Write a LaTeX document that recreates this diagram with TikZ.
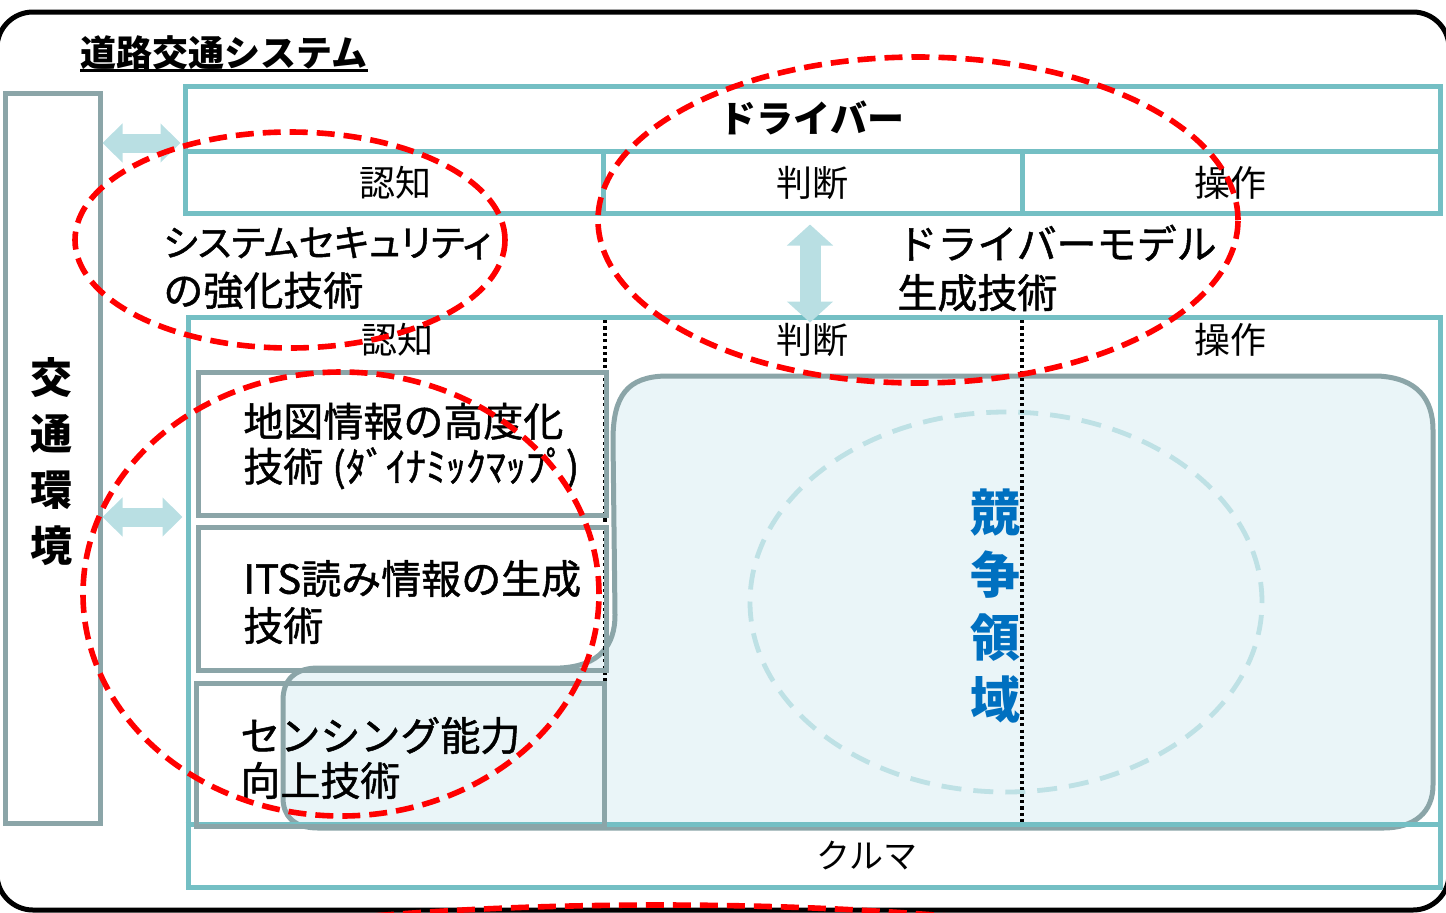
\documentclass[tikz,border=0pt]{standalone}
\usepackage{fontspec}
\setmainfont{Noto Sans CJK JP}
\newfontfamily\jpmed{Noto Sans CJK JP}[FakeBold=1.2]
\newfontfamily\jpprop{Noto Sans CJK JP}[FakeBold=1.2,RawFeature=+palt]
\usetikzlibrary{fit,arrows.meta}
\definecolor{boxteal}{RGB}{116,191,196}
\definecolor{boxgrey}{RGB}{139,165,168}
\definecolor{regfill}{RGB}{234,245,248}
\definecolor{arrowfill}{RGB}{185,223,227}
\definecolor{ellblue}{RGB}{190,225,229}
\definecolor{redline}{RGB}{255,0,0}
\definecolor{textblue}{RGB}{0,112,192}
\tikzset{
  tealbox/.style={draw=boxteal, line width=2.5pt, inner sep=0pt},
  greybox/.style={draw=boxgrey, line width=2.5pt, inner sep=0pt},
  tealline/.style={draw=boxteal, line width=2.5pt},
  dotline/.style={draw=black, line width=1.7pt, dash pattern=on 1.6pt off 1.6pt},
  redell/.style={draw=redline, line width=2.8pt, dash pattern=on 9pt off 4.5pt},
  fatarrow/.style={draw=arrowfill, line width=9.5pt,
     {Triangle[length=10pt 0 0, width=19pt 0 0]}-{Triangle[length=10pt 0 0, width=19pt 0 0]}},
  fatarrowv/.style={draw=arrowfill, line width=10.5pt,
     {Triangle[length=10.5pt 0 0, width=22.5pt 0 0]}-{Triangle[length=10.5pt 0 0, width=22.5pt 0 0]}},
  hdr/.style={inner sep=0pt, font=\fontsize{18pt}{20pt}\selectfont},
  lbl/.style={inner sep=0pt, anchor=west, align=left, font=\jpmed\fontsize{20pt}{24.5pt}\selectfont},
}
\begin{document}
\begin{tikzpicture}[x=0.5pt, y=-0.5pt]
\useasboundingbox (0,0) rectangle (1446,912);
% outer frame
\node[fit={(-3,12) (1449,910)}, draw=black, line width=2.5pt, inner sep=0pt, rounded corners=18pt] (outer) {};
% title
\node[anchor=base west, inner sep=0pt, font=\bfseries\fontsize{18pt}{20pt}\selectfont] (title) at (80,66) {道路交通システム};
\draw[line width=1.5pt] ([yshift=-2pt]title.base west) -- ([yshift=-2pt]title.base east);
% environment box
\node[fit={(5,93) (100,823)}, greybox] (env) {};
\node[inner sep=0pt, align=center, font=\bfseries\fontsize{21pt}{28pt}\selectfont] (envtxt) at (52,462) {交\\通\\環\\境};
% competitive region
\path[fill=regfill, draw=boxgrey, line width=2.5pt] (613,440) .. controls (613,395) and (628,377) .. (665,376) -- (1378,376) .. controls (1418,378) and (1433,400) .. (1433,430) -- (1433,785) .. controls (1433,812) and (1415,828) .. (1383,828) -- (318,828) .. controls (293,828) and (283,815) .. (283,798) -- (283,700) .. controls (283,680) and (295,668) .. (318,668) -- (560,668) .. controls (600,666) and (615,645) .. (615,615) -- cycle;
\draw[draw=ellblue, line width=2.4pt, dash pattern=on 10pt off 6pt] (1006,602) ellipse [x radius=128pt, y radius=95pt];
% car box
\node[fit={(188,317) (1440,887)}, tealbox] (car) {};
\draw[tealline] (car.west |- 0,824) -- (car.east |- 0,824);
\draw[dotline] (605,320) -- (605,822);
\draw[dotline] (1022,320) -- (1022,822);
\node[hdr] (cnin) at (397,340) {認知};
\node[hdr] (chan) at (812,340) {判断};
\node[hdr] (csou) at (1230,340) {操作};
\node[inner sep=0pt, font=\fontsize{17pt}{20pt}\selectfont] (kuruma) at (867,856) {クルマ};
% technique boxes
\node[fit={(198,372) (606,515)}, greybox] (b1) {};
\node[fit={(198,527) (606,670)}, greybox] (b2) {};
\node[fit={(196,683) (604,826)}, greybox] (b3) {};
\node[lbl, font=\jpmed\fontsize{20pt}{22.5pt}\selectfont] (t1) at (243,446) {地図情報の高度化\\技術 (ﾀﾞｲﾅﾐｯｸﾏｯﾌﾟ)};
\node[lbl, font=\jpmed\fontsize{20pt}{23.5pt}\selectfont] (t2) at (243,602) {ITS読み情報の生成\\技術};
\node[lbl, font=\jpmed\fontsize{20pt}{22.5pt}\selectfont] (t3) at (240,758) {センシング能力\\向上技術};
% competitive text
\node[inner sep=0pt, align=center, text=textblue, font=\bfseries\fontsize{25pt}{31.25pt}\selectfont] (kyoso) at (995,606) {競\\争\\領\\域};
% driver box
\node[fit={(185,86) (1440,213)}, tealbox] (drv) {};
\draw[tealline] (drv.west |- 0,151) -- (drv.east |- 0,151);
\draw[tealline] (603,151) -- (drv.south -| 603,0);
\draw[tealline] (1022,151) -- (drv.south -| 1022,0);
\node[inner sep=0pt, font=\bfseries\fontsize{18.5pt}{20pt}\selectfont] (driver) at (812,118) {ドライバー};
\node[hdr] (dnin) at (395,183) {認知};
\node[hdr] (dhan) at (812,183) {判断};
\node[hdr] (dsou) at (1230,183) {操作};
% technique labels
\node[lbl] (sec) at (163,268) {{\jpprop\fontsize{18.6pt}{24.5pt}\selectfont システムセキュリティ}\\の強化技術};
\node[lbl] (dmod) at (897,268) {ドライバーモデル\\生成技術};
% fat arrows
\draw[fatarrow] (env.east |- 0,143) -- ([xshift=-1pt]drv.west |- 0,143);
\draw[fatarrow] (env.east |- 0,517) -- ([xshift=-1.5pt]car.west |- 0,517);
\draw[fatarrowv] ([yshift=-4.5pt]drv.south -| 810,0) -- ([yshift=-4pt]car.north -| 810,0);
% red dashed ellipses
\draw[redell] (290,240) ellipse [x radius=107.5pt, y radius=54pt];
\draw[redell] (918,220) ellipse [x radius=160pt, y radius=81.5pt];
\draw[redell] (341,594) ellipse [x radius=129pt, y radius=111pt];
\begin{scope}
\clip (0,0) rectangle (1446,912);
\draw[redell] (660,1005) ellipse [x radius=315pt, y radius=50pt];
\end{scope}
\end{tikzpicture}
\end{document}
